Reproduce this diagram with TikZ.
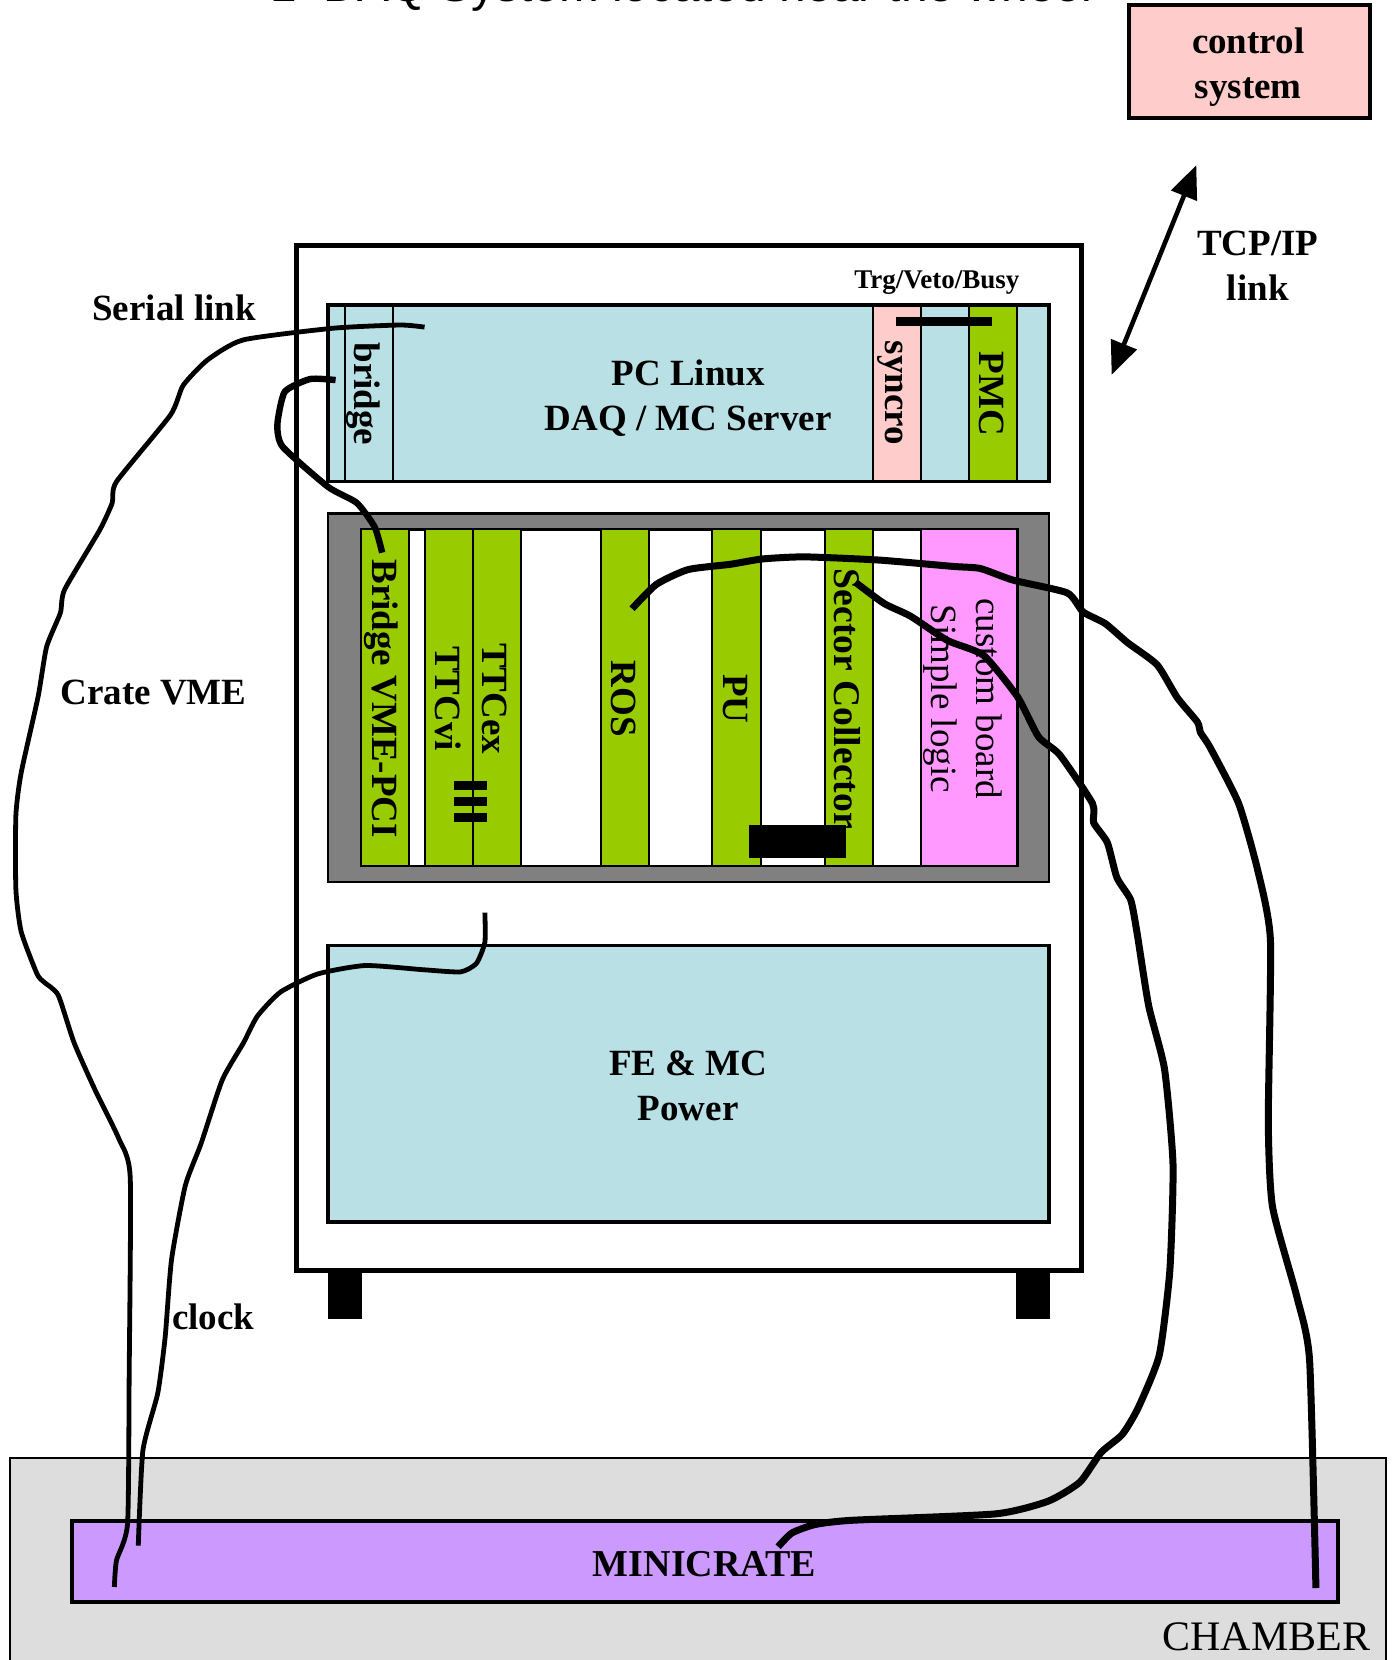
\documentclass[tikz,border=0pt]{standalone}
\usepackage{fontspec}
\setmainfont{Liberation Serif}
\newfontfamily\titlefont{Liberation Sans}
\usetikzlibrary{arrows.meta}
\tikzset{
  lbl/.style={font=\fontsize{37}{45}\selectfont\bfseries,align=center,inner sep=0pt},
  lblr/.style={font=\fontsize{37}{45}\selectfont,align=center,inner sep=0pt},
  vert/.style={lbl,rotate=-90},
  vertr/.style={lblr,rotate=-90},
  frame/.style={draw=black,line width=3.6pt},
  strip/.style={draw=black,line width=2pt},
  wirethin/.style={line width=4.8pt,smooth,tension=0.35},
  wirethick/.style={line width=7pt,smooth,tension=0.35},
  bar/.style={fill=black,draw=none},
}
\definecolor{cblue}{HTML}{B9E0E4}
\definecolor{cgreen}{HTML}{99CC00}
\definecolor{cpink}{HTML}{FFCCCC}
\definecolor{cmag}{HTML}{FF99FF}
\definecolor{cpurple}{HTML}{CC99FF}
\definecolor{cgrey}{HTML}{808080}
\definecolor{clgrey}{HTML}{DDDDDD}
\begin{document}
\begin{tikzpicture}[x=1.05851pt,y=-1.05851pt]
\useasboundingbox (0,0) rectangle (1316,1568);
\begin{scope}
\clip (0,0) rectangle (1316,1568);
% title, cut by the top edge
\node[anchor=base west,inner sep=0pt,font=\fontsize{47.7}{50}\selectfont\titlefont] (title) at (255,1.4) {1~~DAQ System located near the wheel};
% chamber
\draw[fill=clgrey,line width=2pt] (9,1377) rectangle (1309,1600);
\draw[fill=cpurple,line width=4pt] (68,1437) rectangle (1264,1513);
% control
\draw[fill=cpink,line width=4pt] (1066,5) rectangle (1294,111);
% rack
\draw[line width=5pt,fill=white] (280,232) rectangle (1022,1200);
\fill (310,1200) rectangle (342,1246);
\fill (960,1200) rectangle (992,1246);
% PC
\draw[fill=cblue,frame] (310,288) rectangle (991,455);
\draw[fill=cblue,strip] (326,289) rectangle (371,455);
\draw[fill=cpink,strip] (825,289) rectangle (870,455);
\draw[fill=cgreen,strip] (915,289) rectangle (961,455);
\draw[frame] (310,288) rectangle (991,455);
% crate
\draw[fill=cgrey,line width=2.5pt] (310,485) rectangle (991,833);
\draw[fill=white,line width=2.5pt] (341,500) rectangle (961,818);
\foreach \a/\b/\c in {341/386/cgreen,401/447/cgreen,447/492/cgreen,568/613/cgreen,673/719/cgreen,779/825/cgreen,870/961/cmag}
  \draw[fill=\c,strip] (\a,500) rectangle (\b,818);
% power
\draw[fill=cblue,frame] (310,893) rectangle (991,1154);
% labels
\node[lbl] (ctl) at (1179,63.5) {control\\system};
\node[lbl] (tcp) at (1188,251) {TCP/IP\\link};
\node[lbl] (serial) at (164.5,291) {Serial link};
\node[lbl] (cratevme) at (145,654) {Crate VME};
\node[lbl] (clock) at (201.5,1244) {clock};
\node[lbl] (pc) at (650,376) {PC Linux\\DAQ / MC Server};
\node[lbl] (power) at (650,1026) {FE \& MC\\Power};
\node[lbl,font=\fontsize{27}{30}\selectfont\bfseries] (trg) at (885,267) {Trg/Veto/Busy};
\node[lbl,font=\fontsize{38}{45}\selectfont\bfseries] (mini) at (665.5,1477) {MINICRATE};
\node[lblr,font=\fontsize{42}{46}\selectfont] (chamber) at (1196,1546) {CHAMBER};
\node[vert] (bridge) at (343.5,372) {bridge};
\node[vert] (syncro) at (841,371) {syncro};
\node[vert] (pmc) at (937,372) {PMC};
\node[vert] (bvme) at (360,660) {Bridge VME-PCI};
\node[vert] (ttcvi) at (423,660) {TTCvi};
\node[vert] (ttcex) at (467,660) {TTCex};
\node[vert] (ros) at (589,660) {ROS};
\node[vert] (pu) at (695,660) {PU};
\node[vert,font=\fontsize{37.6}{45}\selectfont\bfseries] (sector) at (800,660) {Sector Collector};
\node[vertr] (simple) at (888,660) {Simple logic};
\node[vertr] (custom) at (934,660) {custom board};
% black bars
\path[bar] (846,299) rectangle (937,308);
\path[bar] (429,738) rectangle (460,746);
\path[bar] (429,753) rectangle (460,761);
\path[bar] (429,768) rectangle (460,776.5);
\path[bar] (707.6,779) rectangle (799,810.6);
% TCP arrow
\coordinate (tcpa) at (1130,156);
\coordinate (tcpb) at (1050,354);
\draw[line width=4.6pt,{Triangle[length=33pt,width=27pt]}-{Triangle[length=33pt,width=27pt]}] (tcpa) -- (tcpb);
% wires
\draw[wirethin] plot coordinates {(401,309) (378,307) (315,310) (230,321) (196,340) (173,364) (161,392) (110,455) (106,475) (94,501) (61,557) (57,579) (44,611) (36,658) (20,730) (15,770) (15,840) (20,880) (35,920) (42,928) (55,940) (70,985) (90,1030) (112,1075) (123,1112) (122,1300) (120.5,1439) (110,1474) (108,1499)};
\draw[wirethin,line width=6.4pt] plot coordinates {(317,359) (293,358) (269,370) (262,401) (267,422) (310,460) (337,475) (354,498) (361,522)};
\draw[wirethin] plot coordinates {(458,862) (458,890) (450,910) (435,918) (400,916) (345,912) (300,920) (265,937) (243,960) (230,985) (210,1020) (190,1080) (175,1120) (162,1190) (156,1263) (149,1316) (135,1370) (130.6,1460)};
\draw[wirethick] plot coordinates {(597,575) (620,552) (650,538) (690,533) (720,528) (760,526) (830,529) (900,535) (926,537) (957,548) (1008,560) (1023,578) (1044,589) (1065,607) (1093,628) (1112,659) (1131,682) (1134,692) (1143,706) (1170,759) (1188,822) (1200,888) (1198,1060) (1202,1140) (1225,1225) (1237,1285) (1243,1500)};
\draw[wirethick] plot coordinates {(808,550) (835,570) (860,582) (895,605) (929,619) (961,658) (981,696) (1001,713) (1032,759) (1033,777) (1046,796) (1055,829) (1068,850) (1074,881) (1085,950) (1100,1010) (1108,1100) (1105,1200) (1095,1280) (1075,1330) (1060,1355) (1040,1372) (1020,1400) (990,1418) (940,1430) (805,1436) (770,1440) (748,1448) (735,1461)};
\end{scope}
\end{tikzpicture}
\end{document}
